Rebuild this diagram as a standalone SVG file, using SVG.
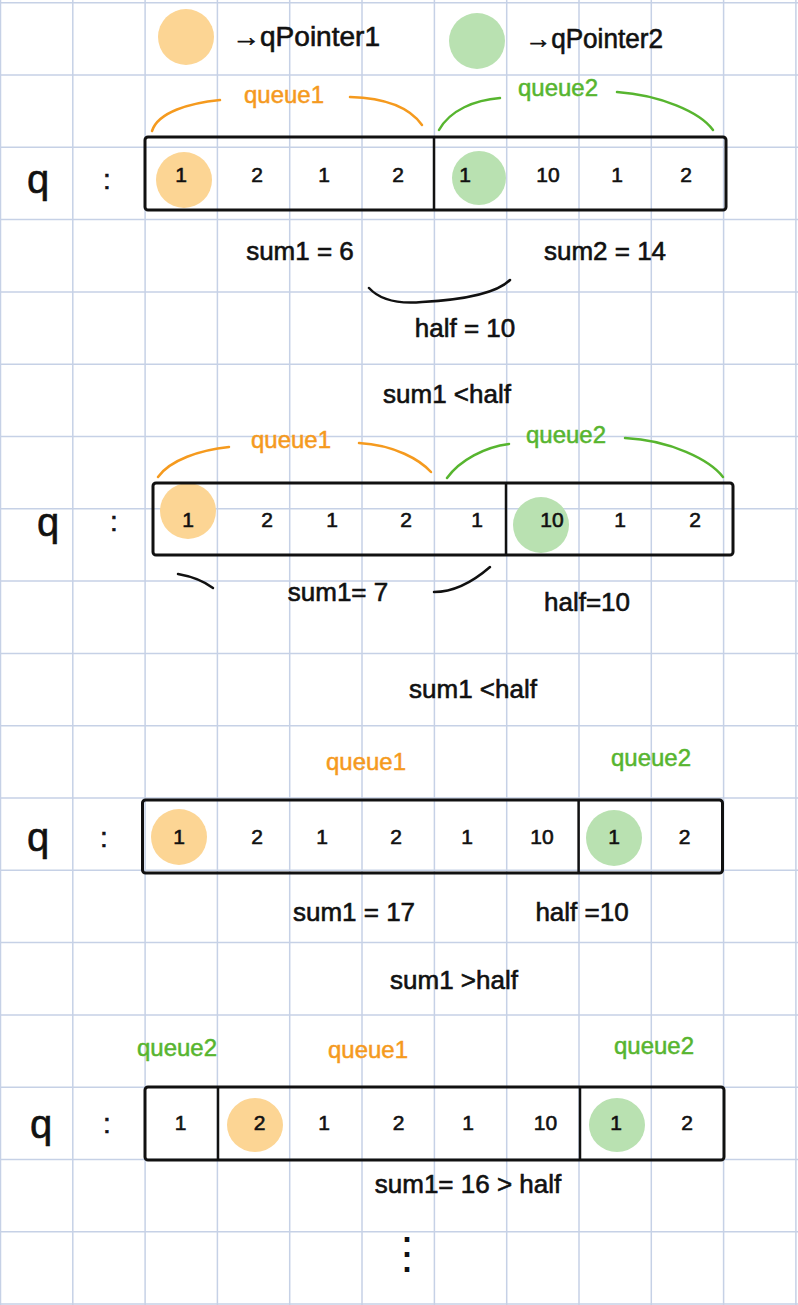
<svg xmlns="http://www.w3.org/2000/svg" width="798" height="1305" viewBox="0 0 798 1305">
<defs>
<style>
.grid line{stroke:#c6d1e6;stroke-width:1.5}
.box{fill:none;stroke:#111;stroke-width:3;stroke-linejoin:round}
.div{stroke:#111;stroke-width:2.5}
.oc{fill:#fcd594}
.gc{fill:#b9e1b1}
.t{font-family:"Liberation Sans",Arial,sans-serif;fill:#111;stroke:#111;stroke-width:0.6;text-anchor:middle}
.n{font-size:21px}
.lab{font-size:26px}
.q{font-size:40px}
.col{font-size:28px}
.ot{font-family:"Liberation Sans",Arial,sans-serif;fill:#f59a1e;stroke:#f59a1e;stroke-width:0.5;font-size:24px;text-anchor:middle}
.gt{font-family:"Liberation Sans",Arial,sans-serif;fill:#57b52f;stroke:#57b52f;stroke-width:0.5;font-size:24px;text-anchor:middle}
.oa{fill:none;stroke:#f59a1e;stroke-width:2.5;stroke-linecap:round}
.ga{fill:none;stroke:#57b52f;stroke-width:2.5;stroke-linecap:round}
.ka{fill:none;stroke:#111;stroke-width:2.5;stroke-linecap:round}
</style>
</defs>
<rect width="798" height="1305" fill="#fff"/>
<g class="grid" id="grid">
<line x1="0.5" y1="0" x2="0.5" y2="1305"/>
<line x1="72.8" y1="0" x2="72.8" y2="1305"/>
<line x1="145.1" y1="0" x2="145.1" y2="1305"/>
<line x1="217.4" y1="0" x2="217.4" y2="1305"/>
<line x1="289.7" y1="0" x2="289.7" y2="1305"/>
<line x1="362" y1="0" x2="362" y2="1305"/>
<line x1="434.4" y1="0" x2="434.4" y2="1305"/>
<line x1="506.7" y1="0" x2="506.7" y2="1305"/>
<line x1="579" y1="0" x2="579" y2="1305"/>
<line x1="651.3" y1="0" x2="651.3" y2="1305"/>
<line x1="723.6" y1="0" x2="723.6" y2="1305"/>
<line x1="795.9" y1="0" x2="795.9" y2="1305"/>
<line x1="0" y1="2.7" x2="798" y2="2.7"/>
<line x1="0" y1="75" x2="798" y2="75"/>
<line x1="0" y1="147.3" x2="798" y2="147.3"/>
<line x1="0" y1="219.6" x2="798" y2="219.6"/>
<line x1="0" y1="291.9" x2="798" y2="291.9"/>
<line x1="0" y1="364.2" x2="798" y2="364.2"/>
<line x1="0" y1="436.5" x2="798" y2="436.5"/>
<line x1="0" y1="508.8" x2="798" y2="508.8"/>
<line x1="0" y1="581.1" x2="798" y2="581.1"/>
<line x1="0" y1="653.4" x2="798" y2="653.4"/>
<line x1="0" y1="725.7" x2="798" y2="725.7"/>
<line x1="0" y1="798" x2="798" y2="798"/>
<line x1="0" y1="870.3" x2="798" y2="870.3"/>
<line x1="0" y1="942.6" x2="798" y2="942.6"/>
<line x1="0" y1="1014.9" x2="798" y2="1014.9"/>
<line x1="0" y1="1087.2" x2="798" y2="1087.2"/>
<line x1="0" y1="1159.5" x2="798" y2="1159.5"/>
<line x1="0" y1="1231.8" x2="798" y2="1231.8"/>
<line x1="0" y1="1304.1" x2="798" y2="1304.1"/>
</g>

<g id="legend">
<circle class="oc" cx="186" cy="37" r="28"/>
<text class="t" x="232" y="46" font-size="27" style="text-anchor:start" textLength="148" lengthAdjust="spacingAndGlyphs">→qPointer1</text>
<circle class="gc" cx="477" cy="41" r="28"/>
<text class="t" x="525" y="48" font-size="27" style="text-anchor:start" textLength="138" lengthAdjust="spacingAndGlyphs">→qPointer2</text>
</g>

<g id="step1">
<path class="oa" d="M152,131 C158,112 190,103 220,100"/>
<text class="ot" x="284" y="103">queue1</text>
<path class="oa" d="M350,97 C385,98 410,108 422,125"/>
<path class="ga" d="M439,130 C450,110 475,100 500,98"/>
<text class="gt" x="558" y="96">queue2</text>
<path class="ga" d="M617,92 C660,95 700,112 713,130"/>
<text class="t q" x="38" y="193">q</text>
<text class="t col" x="107" y="189">:</text>
<circle class="oc" cx="184" cy="180" r="28"/>
<circle class="gc" cx="479" cy="178" r="27"/>
<rect class="box" x="145" y="137" width="581" height="73" rx="3"/>
<line class="div" x1="434" y1="137" x2="434" y2="210"/>
<text class="t n" x="181" y="182">1</text>
<text class="t n" x="257" y="182">2</text>
<text class="t n" x="324" y="182">1</text>
<text class="t n" x="398" y="182">2</text>
<text class="t n" x="465" y="182">1</text>
<text class="t n" x="548" y="182">10</text>
<text class="t n" x="617" y="182">1</text>
<text class="t n" x="686" y="182">2</text>
<text class="t lab" x="300" y="260">sum1 = 6</text>
<text class="t lab" x="605" y="260">sum2 = 14</text>
<path class="ka" d="M369,288 C380,300 400,304 422,302 C460,300 495,295 510,280"/>
<text class="t lab" x="465" y="337">half = 10</text>
<text class="t lab" x="447" y="403">sum1 &lt;half</text>
</g>

<g id="step2">
<path class="oa" d="M158,477 C170,460 200,450 229,447"/>
<text class="ot" x="291" y="448">queue1</text>
<path class="oa" d="M359,443 C395,445 420,460 431,472"/>
<path class="ga" d="M447,478 C460,460 485,447 509,444"/>
<text class="gt" x="566" y="443">queue2</text>
<path class="ga" d="M625,438 C670,440 710,460 723,477"/>
<text class="t q" x="48" y="536">q</text>
<text class="t col" x="114" y="531">:</text>
<circle class="oc" cx="188" cy="511" r="28"/>
<circle class="gc" cx="541" cy="525" r="28"/>
<rect class="box" x="153" y="483" width="580" height="72" rx="3"/>
<line class="div" x1="506" y1="483" x2="506" y2="555"/>
<text class="t n" x="188" y="527">1</text>
<text class="t n" x="267" y="527">2</text>
<text class="t n" x="332" y="527">1</text>
<text class="t n" x="406" y="527">2</text>
<text class="t n" x="477" y="527">1</text>
<text class="t n" x="552" y="527">10</text>
<text class="t n" x="620" y="527">1</text>
<text class="t n" x="695" y="527">2</text>
<path class="ka" d="M178,574 C195,577 205,582 213,588"/>
<text class="t lab" x="338" y="601">sum1= 7</text>
<path class="ka" d="M434,592 C455,592 475,580 490,567"/>
<text class="t lab" x="587" y="611">half=10</text>
<text class="t lab" x="473" y="698">sum1 &lt;half</text>
</g>

<g id="step3">
<text class="ot" x="366" y="770">queue1</text>
<text class="gt" x="651" y="766">queue2</text>
<text class="t q" x="38" y="851">q</text>
<text class="t col" x="104" y="847">:</text>
<circle class="oc" cx="179" cy="837" r="28"/>
<circle class="gc" cx="614" cy="838" r="28"/>
<rect class="box" x="142.5" y="800" width="580" height="73" rx="3"/>
<line class="div" x1="578.6" y1="800" x2="578.6" y2="873"/>
<text class="t n" x="179" y="844">1</text>
<text class="t n" x="257" y="844">2</text>
<text class="t n" x="322" y="844">1</text>
<text class="t n" x="396" y="844">2</text>
<text class="t n" x="467" y="844">1</text>
<text class="t n" x="542" y="844">10</text>
<text class="t n" x="614" y="844">1</text>
<text class="t n" x="684.5" y="844">2</text>
<text class="t lab" x="354" y="921">sum1 = 17</text>
<text class="t lab" x="582" y="921">half =10</text>
<text class="t lab" x="454" y="989">sum1 &gt;half</text>
</g>

<g id="step4">
<text class="gt" x="177" y="1056">queue2</text>
<text class="ot" x="368" y="1058">queue1</text>
<text class="gt" x="654" y="1054">queue2</text>
<text class="t q" x="41" y="1138">q</text>
<text class="t col" x="107" y="1133">:</text>
<ellipse class="oc" cx="255" cy="1125" rx="28" ry="27"/>
<ellipse class="gc" cx="617" cy="1125" rx="28" ry="27"/>
<rect class="box" x="145" y="1087" width="579" height="73" rx="3"/>
<line class="div" x1="218" y1="1087" x2="218" y2="1160"/>
<line class="div" x1="580" y1="1087" x2="580" y2="1160"/>
<text class="t n" x="180.6" y="1130">1</text>
<text class="t n" x="259.5" y="1130">2</text>
<text class="t n" x="324" y="1130">1</text>
<text class="t n" x="398.5" y="1130">2</text>
<text class="t n" x="468" y="1130">1</text>
<text class="t n" x="545.5" y="1130">10</text>
<text class="t n" x="616" y="1130">1</text>
<text class="t n" x="687" y="1130">2</text>
<text class="t lab" x="468" y="1193">sum1= 16 &gt; half</text>
<text class="t" x="407" y="1268" font-size="44" style="stroke:none">⋮</text>
</g>
</svg>
